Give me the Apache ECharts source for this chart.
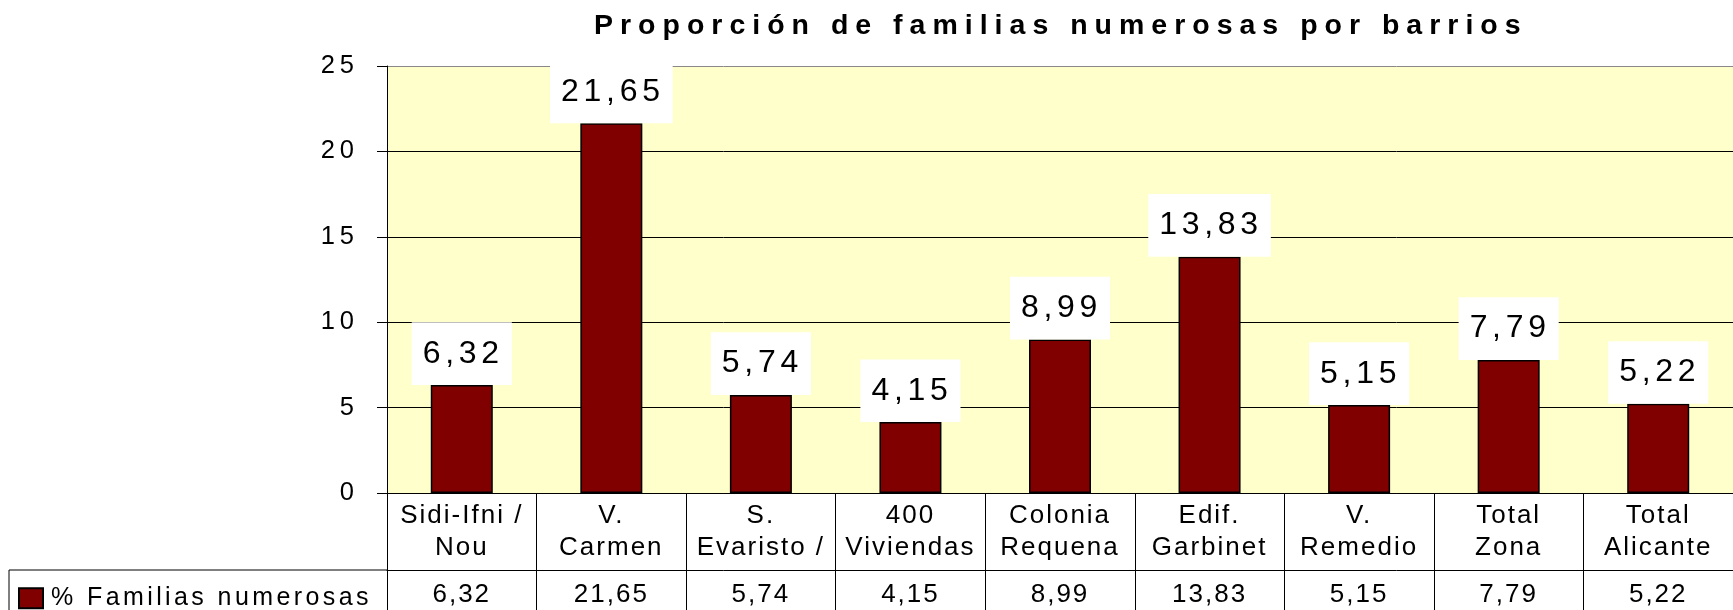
<!doctype html>
<html>
	<head>
		<meta charset="UTF-8">
		<title>Proporción de familias numerosas por barrios</title>
		<style>
			html, body {
				margin: 0;
				padding: 0;
				background: #fff;
			}
			#chart {
				width: 1733px;
				height: 610px;
			}
		</style>
	</head>
	<body>
		<div id="chart"></div>
		<script src="https://cdn.jsdelivr.net/npm/echarts@6/dist/echarts.min.js"></script>
		<script>
			// datos
			var barrios = ['Sidi-Ifni /\nNou', 'V.\nCarmen', 'S.\nEvaristo /', '400\nViviendas', 'Colonia\nRequena',
				'Edif.\nGarbinet', 'V.\nRemedio', 'Total\nZona', 'Total\nAlicante'];
			var familias = [6.32, 21.65, 5.74, 4.15, 8.99, 13.83, 5.15, 7.79, 5.22];
			var serieNombre = '% Familias numerosas';
			var yMax = 25, yStep = 5;

			// el grafico original tiene las letras separadas: se imita con letterSpacing del canvas,
			// segun el tamaño de letra de cada texto
			var espaciado = { '28.5': 7, '32': 4.7, '26': 2, '25.5': 5, '25': 3.4 };
			var fontDesc = Object.getOwnPropertyDescriptor(CanvasRenderingContext2D.prototype, 'font');
			Object.defineProperty(CanvasRenderingContext2D.prototype, 'font', {
				get: function() { return fontDesc.get.call(this); },
				set: function(v) {
					fontDesc.set.call(this, v);
					var m = /(\d+(?:\.\d+)?)px/.exec(v);
					if ('letterSpacing' in this) {
						var s = m ? espaciado[String(parseFloat(m[1]))] : 0;
						this.letterSpacing = (s || 0) + 'px';
					}
				}
			});

			function coma(v) {
				return v.toFixed(2).replace('.', ',');
			}
			var tabla = familias.map(coma);

			var fuente = "'Liberation Sans', Arial, sans-serif";
			var chart = echarts.init(document.getElementById('chart'), null, { renderer: 'canvas' });

			chart.setOption({
				backgroundColor: '#fff',
				animation: false,
				textStyle: { fontFamily: fuente, color: '#000' },
				title: {
					text: 'Proporción de familias numerosas por barrios',
					left: 594,
					top: 8,
					padding: 0,
					textStyle: { fontFamily: fuente, fontSize: 28.5, fontWeight: 'bold', color: '#000' }
				},
				legend: {
					data: [serieNombre],
					left: 18,
					top: 584,
					padding: 0,
					icon: 'rect',
					itemWidth: 24,
					itemHeight: 20,
					textStyle: { fontFamily: fuente, fontSize: 25, color: '#000', padding: [0, 0, 0, 3] }
				},
				grid: {
					left: 387,
					right: -15,
					top: 66,
					bottom: 117,
					show: true,
					backgroundColor: '#FFFFCC',
					borderWidth: 0
				},
				xAxis: [{
					type: 'category',
					data: barrios,
					position: 'bottom',
					axisLine: { lineStyle: { color: '#000', width: 1 } },
					axisTick: { show: true, length: 117, interval: 0, lineStyle: { color: '#000', width: 1 } },
					axisLabel: {
						interval: 0,
						margin: 7,
						fontFamily: fuente,
						fontSize: 26,
						lineHeight: 32,
						color: '#000'
					}
				}, {
					type: 'category',
					data: tabla,
					position: 'bottom',
					offset: 77,
					axisLine: { lineStyle: { color: '#000', width: 1 } },
					axisTick: { show: false },
					axisLabel: {
						interval: 0,
						margin: 11,
						fontFamily: fuente,
						fontSize: 26,
						color: '#000'
					}
				}],
				yAxis: {
					type: 'value',
					min: 0,
					max: yMax,
					interval: yStep,
					axisLine: { show: true, lineStyle: { color: '#000', width: 1 } },
					axisTick: { show: true, length: 10, lineStyle: { color: '#000', width: 1 } },
					axisLabel: { margin: 28, fontFamily: fuente, fontSize: 25.5, color: '#000' },
					splitLine: {
						show: true,
						lineStyle: { color: ['#000', '#000', '#000', '#000', '#000', '#888'], width: 1 }
					}
				},
				series: [{
					name: serieNombre,
					type: 'bar',
					barWidth: 62,
					data: familias,
					itemStyle: { color: '#800000', borderColor: '#000', borderWidth: 1.5 },
					label: {
						show: true,
						position: 'top',
						distance: 0,
						formatter: function(p) { return coma(p.value); },
						fontFamily: fuente,
						fontSize: 32,
						color: '#000',
						backgroundColor: '#fff',
						padding: [13, 8, 13, 11]
					}
				}],
				graphic: [{
					type: 'polyline',
					shape: { points: [[9, 612], [9, 570], [388, 570]] },
					style: { stroke: '#000', lineWidth: 1, fill: null }
				}]
			});
		</script>
	</body>
</html>
